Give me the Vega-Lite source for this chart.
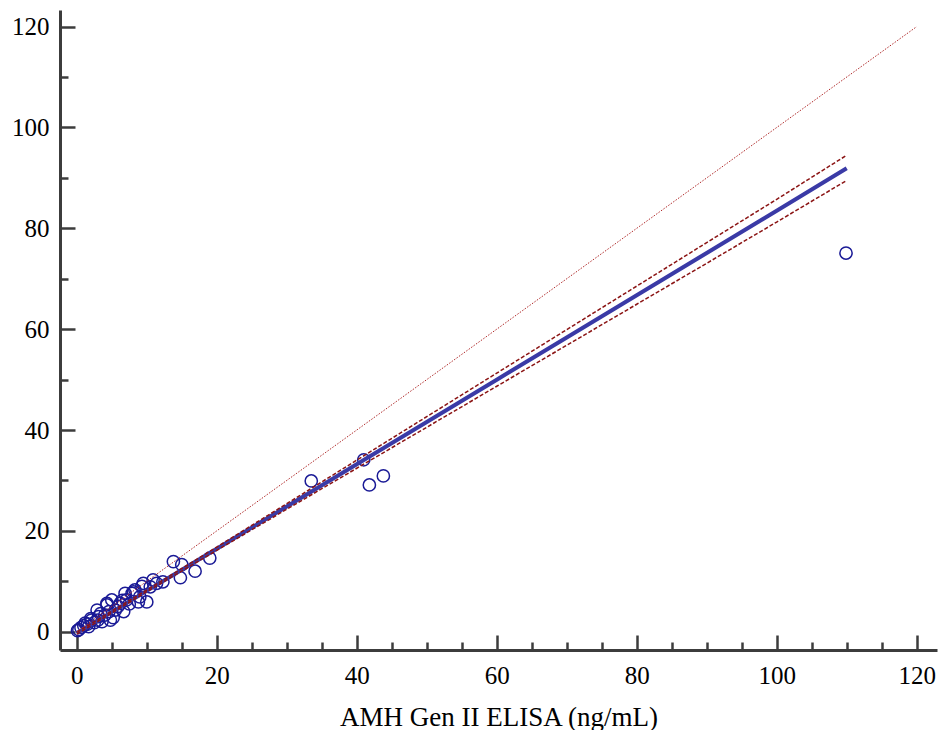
{
  "$schema": "https://vega.github.io/schema/vega-lite/v6.json",
  "width": 877,
  "height": 640,
  "autosize": {"type": "none"},
  "padding": {"left": 60, "top": 10, "right": 4, "bottom": 80},
  "background": "white",
  "config": {
    "view": {"stroke": null},
    "axis": {
      "domainColor": "#3c3c3c",
      "domainWidth": 3,
      "tickColor": "#3c3c3c",
      "tickWidth": 2.5,
      "grid": false,
      "labelFont": "Liberation Serif",
      "labelFontSize": 25,
      "labelColor": "black",
      "titleFont": "Liberation Serif",
      "titleFontSize": 27,
      "titleFontWeight": "normal",
      "titleColor": "black",
      "values": [0, 10, 20, 30, 40, 50, 60, 70, 80, 90, 100, 110, 120],
      "labelExpr": "datum.value % 20 === 0 ? datum.label : ''",
      "tickSize": {"condition": {"test": "datum.value % 20 === 0", "value": -15}, "value": -8}
    },
    "axisX": {"labelPadding": 28, "titleY": 75, "titleBaseline": "alphabetic"},
    "axisY": {"labelPadding": 26}
  },
  "datasets": {
    "points": [
      {"x": 0.1, "y": 0.2}, {"x": 0.3, "y": 0.4}, {"x": 0.6, "y": 0.8}, {"x": 1.0, "y": 1.2},
      {"x": 1.2, "y": 1.7}, {"x": 1.7, "y": 1.0}, {"x": 1.5, "y": 1.5}, {"x": 2.1, "y": 2.3},
      {"x": 2.5, "y": 1.8}, {"x": 2.0, "y": 2.6}, {"x": 3.0, "y": 2.3}, {"x": 2.9, "y": 4.3},
      {"x": 3.1, "y": 3.0}, {"x": 3.6, "y": 2.0}, {"x": 3.4, "y": 3.6}, {"x": 4.0, "y": 3.3},
      {"x": 4.3, "y": 5.3}, {"x": 4.3, "y": 5.6}, {"x": 4.8, "y": 2.3}, {"x": 4.6, "y": 4.0},
      {"x": 5.0, "y": 6.3}, {"x": 5.5, "y": 4.3}, {"x": 5.9, "y": 5.0}, {"x": 5.2, "y": 2.8},
      {"x": 6.2, "y": 5.6}, {"x": 6.7, "y": 4.0}, {"x": 6.5, "y": 6.2}, {"x": 7.1, "y": 6.3},
      {"x": 6.9, "y": 7.6}, {"x": 7.5, "y": 5.5}, {"x": 7.9, "y": 7.6}, {"x": 8.1, "y": 7.9},
      {"x": 8.3, "y": 8.3}, {"x": 8.8, "y": 5.9}, {"x": 9.0, "y": 6.9}, {"x": 9.3, "y": 9.0},
      {"x": 9.5, "y": 9.6}, {"x": 10.0, "y": 5.9}, {"x": 10.5, "y": 8.9}, {"x": 10.9, "y": 10.3},
      {"x": 11.4, "y": 9.6}, {"x": 12.3, "y": 9.9}, {"x": 13.8, "y": 13.9}, {"x": 15.0, "y": 13.3},
      {"x": 16.9, "y": 12.0}, {"x": 14.8, "y": 10.7}, {"x": 19.0, "y": 14.6}, {"x": 33.5, "y": 29.9},
      {"x": 41.0, "y": 34.1}, {"x": 41.8, "y": 29.1}, {"x": 43.8, "y": 30.9}, {"x": 109.9, "y": 75.1}
    ],
    "fit": [
      {"x": 0, "fit": -0.3, "lo": -0.5, "hi": -0.1},
      {"x": 10, "fit": 8.1, "lo": 7.93, "hi": 8.27},
      {"x": 20, "fit": 16.46, "lo": 16.13, "hi": 16.79},
      {"x": 30, "fit": 24.84, "lo": 24.29, "hi": 25.39},
      {"x": 40, "fit": 33.22, "lo": 32.42, "hi": 34.02},
      {"x": 50, "fit": 41.6, "lo": 40.55, "hi": 42.65},
      {"x": 60, "fit": 49.98, "lo": 48.68, "hi": 51.28},
      {"x": 70, "fit": 58.36, "lo": 56.81, "hi": 59.91},
      {"x": 80, "fit": 66.74, "lo": 64.94, "hi": 68.54},
      {"x": 90, "fit": 75.12, "lo": 73.07, "hi": 77.17},
      {"x": 100, "fit": 83.5, "lo": 81.25, "hi": 85.75},
      {"x": 110, "fit": 91.9, "lo": 89.5, "hi": 94.5}
    ],
    "identity": [
      {"x": 0, "y": 0},
      {"x": 120, "y": 120}
    ]
  },
  "layer": [
    {
      "data": {"name": "points"},
      "mark": {"type": "point", "shape": "circle", "filled": false, "size": 150, "stroke": "#1a1a96", "strokeWidth": 1.5, "opacity": 1},
      "encoding": {
        "x": {"field": "x", "type": "quantitative", "scale": {"domain": [-2.4, 122.9], "nice": false, "zero": false}, "title": "AMH Gen II ELISA (ng/mL)"},
        "y": {"field": "y", "type": "quantitative", "scale": {"domain": [-3.63, 123.3], "nice": false, "zero": false}, "title": null}
      }
    },
    {
      "data": {"name": "fit"},
      "mark": {"type": "line", "color": "#3a3aa6", "strokeWidth": 4},
      "encoding": {
        "x": {"field": "x", "type": "quantitative", "title": "AMH Gen II ELISA (ng/mL)"},
        "y": {"field": "fit", "type": "quantitative", "title": null}
      }
    },
    {
      "data": {"name": "fit"},
      "mark": {"type": "line", "color": "#8b1414", "strokeWidth": 1.5, "strokeDash": [4, 2]},
      "encoding": {
        "x": {"field": "x", "type": "quantitative", "title": "AMH Gen II ELISA (ng/mL)"},
        "y": {"field": "lo", "type": "quantitative", "title": null}
      }
    },
    {
      "data": {"name": "fit"},
      "mark": {"type": "line", "color": "#8b1414", "strokeWidth": 1.5, "strokeDash": [4, 2]},
      "encoding": {
        "x": {"field": "x", "type": "quantitative", "title": "AMH Gen II ELISA (ng/mL)"},
        "y": {"field": "hi", "type": "quantitative", "title": null}
      }
    },
    {
      "data": {"name": "identity"},
      "mark": {"type": "line", "color": "#b02a2a", "strokeWidth": 1, "strokeDash": [1.5, 1.5]},
      "encoding": {
        "x": {"field": "x", "type": "quantitative", "title": "AMH Gen II ELISA (ng/mL)"},
        "y": {"field": "y", "type": "quantitative", "title": null}
      }
    }
  ]
}
